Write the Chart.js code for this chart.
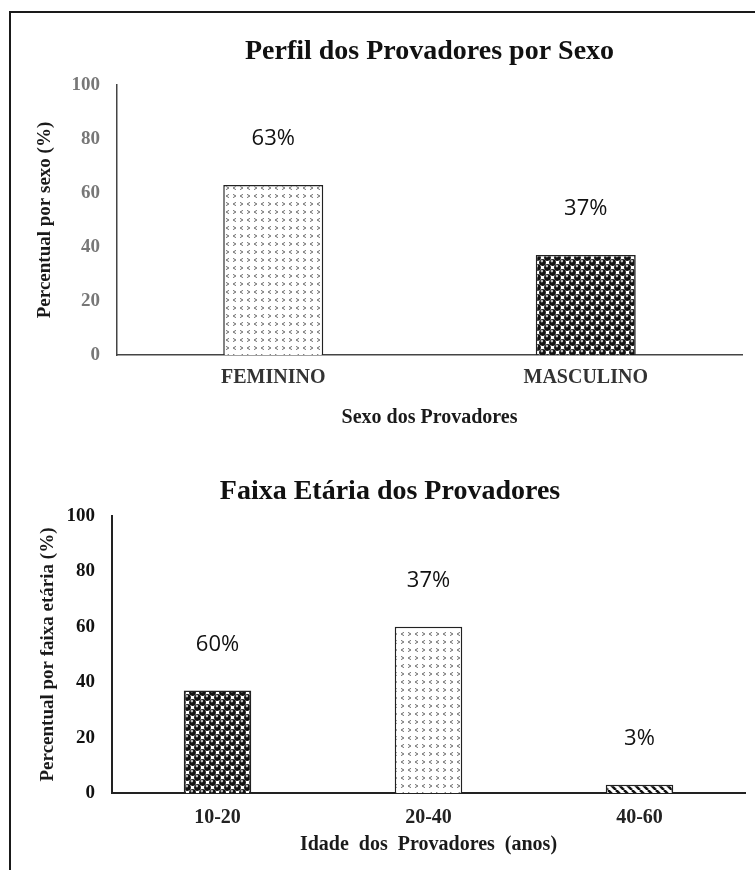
<!DOCTYPE html>
<html>
<head>
<meta charset="utf-8">
<script src="https://cdn.jsdelivr.net/npm/chart.js@4.4.1/dist/chart.umd.min.js"></script>
<style>
  html, body { margin: 0; padding: 0; background: #fff; overflow: hidden; }
  #page { position: relative; width: 755px; height: 870px; overflow: hidden; }
  #frame { position: absolute; left: 9px; top: 11px; width: 900px; height: 1000px;
           border-left: 2px solid #1a1a1a; border-top: 2px solid #1a1a1a; }
  canvas { position: absolute; left: 0; }
  #sexChart { top: 0; }
  #ageChart { top: 430px; }
</style>
</head>
<body>
<div id="page">
  <div id="frame"></div>
  <canvas id="sexChart" width="755" height="430"></canvas>
  <canvas id="ageChart" width="780" height="440"></canvas>
</div>
<script>
// --- data ---
const sexCategories = ["FEMININO", "MASCULINO"];
const sexValues = [63, 37];
const sexLabels = ["63%", "37%"];

const ageCategories = ["10-20", "20-40", "40-60"];
const ageValues = [37, 60, 3];
const ageLabels = ["60%", "37%", "3%"]; // printed this way in the original figure

const yTicks = [0, 20, 40, 60, 80, 100];

const SERIF = "'Liberation Serif', 'Times New Roman', serif";

// small canvas tiles used as bar fills
function makePattern(kind) {
  const c = document.createElement("canvas");
  const g = c.getContext("2d");
  if (kind === "chevron") {
    c.width = 14; c.height = 16;
    g.fillStyle = "#fff"; g.fillRect(0, 0, 14, 16);
    g.strokeStyle = "#666"; g.lineWidth = 1;
    const mark = (x, y, dir) => {
      g.beginPath();
      g.moveTo(x + dir * 1.4, y - 1.6);
      g.lineTo(x - dir * 1.4, y);
      g.lineTo(x + dir * 1.4, y + 1.6);
      g.stroke();
    };
    mark(3.5, 4, 1); mark(10.5, 4, -1); mark(3.5, 12, -1); mark(10.5, 12, 1);
  } else if (kind === "balls") {
    c.width = 10; c.height = 10;
    g.fillStyle = "#fff"; g.fillRect(0, 0, 10, 10);
    const ball = (x, y) => {
      g.fillStyle = "#111";
      g.beginPath(); g.arc(x, y, 3.4, 0, Math.PI * 2); g.fill();
      g.fillStyle = "#b8b8b8";
      g.beginPath(); g.arc(x - 0.6, y - 1.4, 1.3, 0, Math.PI * 2); g.fill();
    };
    [[2.5, 2.5], [7.5, 7.5]].forEach(([bx, by]) => {
      [-10, 0, 10].forEach(dx => [-10, 0, 10].forEach(dy => ball(bx + dx, by + dy)));
    });
  } else {
    c.width = 8; c.height = 8;
    g.fillStyle = "#fff"; g.fillRect(0, 0, 8, 8);
    g.strokeStyle = "#111"; g.lineWidth = 2.6;
    [-8, 0, 8].forEach(k => {
      g.beginPath(); g.moveTo(k, 0); g.lineTo(k + 8, 8); g.stroke();
    });
  }
  return g.createPattern(c, "repeat");
}

// percentage text above each bar
const barLabels = {
  id: "barLabels",
  afterDatasetsDraw(chart, args, opts) {
    const ctx = chart.ctx;
    ctx.save();
    ctx.font = "22px 'Open Sans', sans-serif";
    ctx.fillStyle = "#111";
    ctx.textAlign = "center";
    ctx.textBaseline = "middle";
    chart.getDatasetMeta(0).data.forEach((bar, i) => {
      ctx.fillText(opts.texts[i], bar.x, bar.y - 46);
    });
    ctx.restore();
  }
};

function makeChart(id, categories, values, labels, fills, look) {
  return new Chart(document.getElementById(id), {
    type: "bar",
    data: {
      labels: categories,
      datasets: [{
        data: values,
        backgroundColor: fills,
        borderColor: "#222",
        borderWidth: 1.5,
        categoryPercentage: 1,
        barPercentage: 0.32
      }]
    },
    plugins: [barLabels],
    options: {
      responsive: false,
      animation: false,
      layout: { padding: { left: 0, right: look.padRight, top: 0, bottom: 0 } },
      plugins: {
        legend: { display: false },
        tooltip: { enabled: false },
        barLabels: { texts: labels },
        title: {
          display: true,
          text: look.title,
          fullSize: look.titleFull,
          color: "#111",
          font: { family: SERIF, size: 28, weight: "bold" },
          padding: look.titlePad
        }
      },
      scales: {
        x: {
          grid: { display: false, drawTicks: false },
          border: { display: true, color: look.axisColor, width: look.axisWidth },
          ticks: {
            color: look.xTickColor,
            padding: look.xTickPad,
            font: { family: SERIF, size: 20, weight: "bold" }
          },
          title: {
            display: true,
            text: look.xTitle,
            color: "#1a1a1a",
            font: { family: SERIF, size: 20, weight: "bold" },
            padding: { top: 0, bottom: look.xTitlePad }
          },
          afterFit: s => { s.height = look.xHeight; }
        },
        y: {
          min: 0,
          max: 100,
          afterBuildTicks: s => { s.ticks = yTicks.map(v => ({ value: v })); },
          grid: { display: false, drawTicks: false },
          border: { display: true, color: look.axisColor, width: look.axisWidth },
          ticks: {
            color: look.yTickColor,
            padding: 17,
            font: { family: SERIF, size: 19, weight: "bold" }
          },
          title: {
            display: true,
            text: look.yTitle,
            color: "#1a1a1a",
            font: { family: SERIF, size: 19, weight: "bold" },
            padding: { top: look.yTitlePad, bottom: 0 }
          },
          afterFit: s => { s.width = look.yWidth; }
        },
        // empty right-hand box: keeps the plot's right edge without shrinking the title box
        gap: {
          type: "linear",
          position: "right",
          display: look.rightGap > 0,
          grid: { display: false },
          border: { display: false },
          ticks: { display: false },
          afterFit: s => { s.width = look.rightGap; }
        }
      }
    }
  });
}

const dots = makePattern("chevron");
const balls = makePattern("balls");
const stripes = makePattern("stripes");

makeChart("sexChart", sexCategories, sexValues, sexLabels, [dots, balls], {
  title: "Perfil dos Provadores por Sexo",
  titleFull: false,
  titlePad: { top: 35.2, bottom: 16.2 },
  padRight: 13,
  rightGap: 0,
  axisColor: "#444",
  axisWidth: 1.5,
  xTickColor: "#333",
  yTickColor: "#777",
  xTickPad: 11,
  xTitle: "Sexo dos Provadores",
  xTitlePad: 0,
  xHeight: 75,
  yTitle: "Percentual por sexo (%)",
  yTitlePad: 33.6,
  yWidth: 117
});

makeChart("ageChart", ageCategories, ageValues, ageLabels, [balls, dots, stripes], {
  title: "Faixa Etária dos Provadores",
  titleFull: true,
  titlePad: { top: 45.2, bottom: 7.2 },
  padRight: 0,
  rightGap: 35,
  axisColor: "#222",
  axisWidth: 2,
  xTickColor: "#222",
  yTickColor: "#111",
  xTickPad: 13,
  xTitle: "Idade  dos  Provadores  (anos)",
  xTitlePad: 13,
  xHeight: 77,
  yTitle: "Percentual por faixa etária (%)",
  yTitlePad: 36.6,
  yWidth: 112
});
</script>
</body>
</html>
